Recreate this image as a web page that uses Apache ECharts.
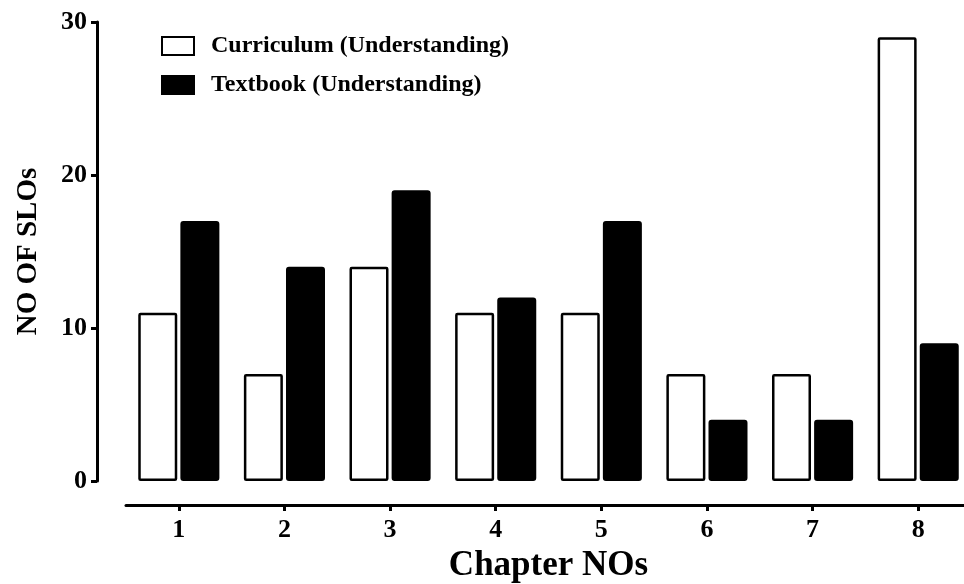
<!DOCTYPE html>
<html>
<head>
<meta charset="utf-8">
<script src="https://cdn.jsdelivr.net/npm/echarts@6/dist/echarts.min.js"></script>
<style>
  html, body { margin: 0; padding: 0; background: #fff; }
  #chart { width: 964px; height: 584px; }
</style>
</head>
<body>
<div id="chart"></div>
<script>
// chapters on the x axis
const chapters = ['1', '2', '3', '4', '5', '6', '7', '8'];
// number of SLOs per chapter
const curriculum = [11, 7, 14, 11, 11, 7, 7, 29];
const textbook = [17, 14, 19, 12, 17, 4, 4, 9];
const yTicks = [0, 10, 20, 30];

const font = '"Liberation Serif", "Times New Roman", serif';

const chart = echarts.init(document.getElementById('chart'));

chart.setOption({
  animation: false,
  textStyle: { fontFamily: font, fontWeight: 'bold', color: '#000' },
  legend: {
    orient: 'vertical',
    left: 161,
    top: 34,
    padding: 0,
    itemWidth: 32,
    itemHeight: 18,
    itemGap: 15,
    icon: 'rect',
    textStyle: { fontFamily: font, fontWeight: 'bold', fontSize: 24, color: '#000', padding: [0, 0, 0, 12] },
    data: ['Curriculum (Understanding)', 'Textbook (Understanding)']
  },
  grid: { left: 126, width: 845, top: 22, bottom: 103, outerBoundsMode: 'none' },
  xAxis: {
    type: 'category',
    data: chapters,
    offset: 24,
    name: 'Chapter NOs',
    nameLocation: 'middle',
    nameGap: 43,
    nameTextStyle: { fontFamily: font, fontWeight: 'bold', fontSize: 35, color: '#000' },
    axisLine: { onZero: false, lineStyle: { color: '#000', width: 3 } },
    axisTick: { show: true, alignWithLabel: true, length: 6, lineStyle: { color: '#000', width: 3 } },
    axisLabel: { fontFamily: font, fontWeight: 'bold', fontSize: 26, color: '#000', margin: 12 }
  },
  yAxis: {
    type: 'value',
    min: yTicks[0],
    max: yTicks[yTicks.length - 1],
    interval: 10,
    offset: 29,
    name: 'NO OF SLOs',
    nameLocation: 'middle',
    nameGap: 54,
    nameRotate: 90,
    nameTextStyle: { fontFamily: font, fontWeight: 'bold', fontSize: 29, color: '#000' },
    axisLine: { show: true, onZero: false, lineStyle: { color: '#000', width: 3 } },
    axisTick: { show: true, length: 6, lineStyle: { color: '#000', width: 3 } },
    axisLabel: { fontFamily: font, fontWeight: 'bold', fontSize: 26, color: '#000', margin: 10 },
    splitLine: { show: false }
  },
  series: [
    {
      name: 'Curriculum (Understanding)',
      type: 'bar',
      data: curriculum,
      barWidth: 39,
      barGap: '8%',
      itemStyle: { color: '#fff', borderColor: '#000', borderWidth: 2.5, borderRadius: 1 }
    },
    {
      name: 'Textbook (Understanding)',
      type: 'bar',
      data: textbook,
      barWidth: 39,
      itemStyle: { color: '#000', borderColor: '#000', borderWidth: 2, borderRadius: 2 }
    }
  ]
});
</script>
</body>
</html>
